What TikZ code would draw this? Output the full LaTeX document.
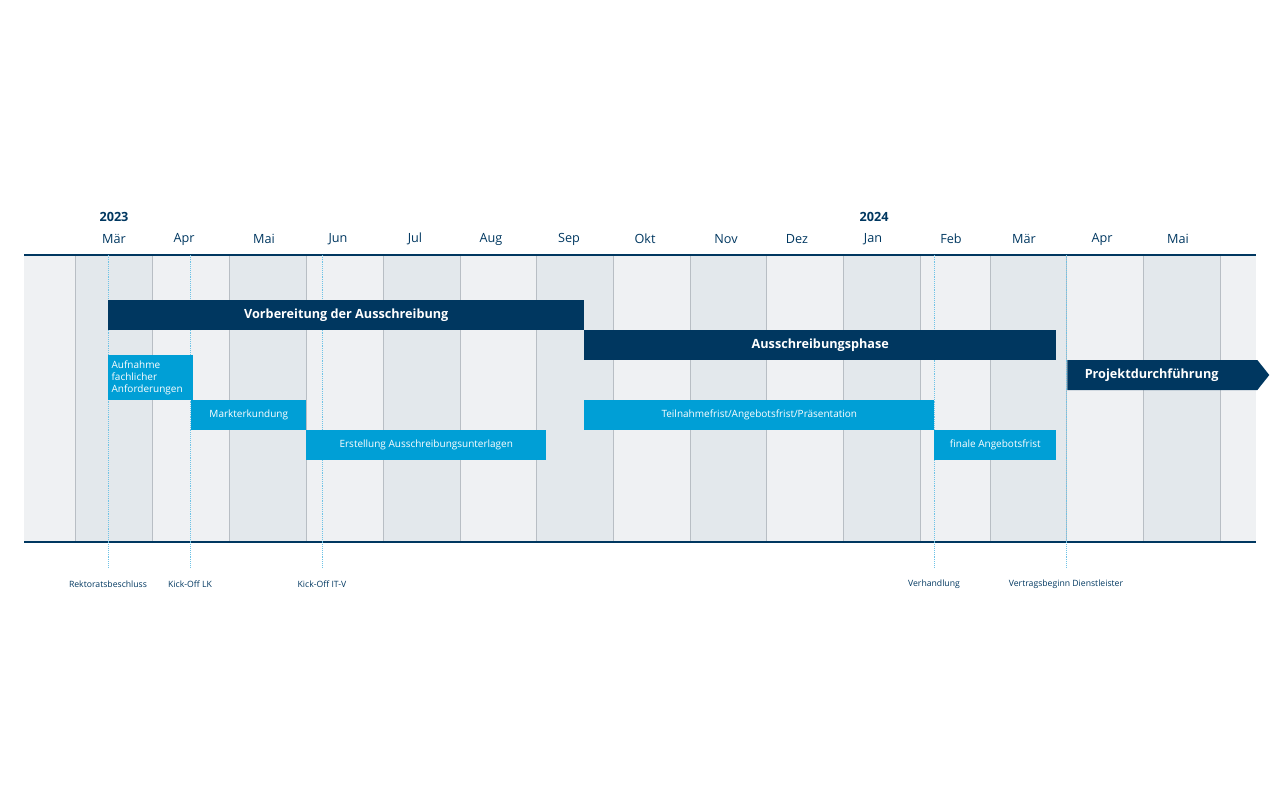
\documentclass[tikz,border=0pt]{standalone}
\usepackage{fontspec}
\setmainfont{Open Sans}
\usetikzlibrary{positioning, shapes.symbols}
\definecolor{navy}{HTML}{003760}
\definecolor{sky}{HTML}{009FD6}
\definecolor{bandlight}{HTML}{EFF1F3}
\definecolor{banddark}{HTML}{E3E8EC}
\definecolor{gridline}{HTML}{B8BEC4}
\definecolor{mstone}{HTML}{6FC3E6}
\tikzset{phase/.style={fill=navy, text=white, font=\bfseries\fontsize{9.5}{11}\selectfont, inner sep=0pt, minimum height=30*0.75pt, anchor=west},
  task/.style={fill=sky, text=white, font=\fontsize{7.5}{9}\selectfont, inner sep=0pt, minimum height=30*0.75pt, anchor=west},
  month/.style={text=navy, font=\fontsize{9.5}{11}\selectfont},
  year/.style={text=navy, font=\bfseries\fontsize{9.5}{11}\selectfont},
  mlabel/.style={text=navy, font=\fontsize{6.5}{8}\selectfont},
  mline/.style={mstone, densely dotted, thin}}
\begin{document}
\begin{tikzpicture}[x=0.75pt, y=-0.75pt]
\useasboundingbox (0,0) rectangle (1280,800);
% background band
\fill[bandlight] (24,255) rectangle (1256,542);
\foreach \a/\b in {75/152, 229/306, 383/460, 536/613, 690/766, 843/920, 990/1066, 1143/1220}
  \fill[banddark] (\a,255) rectangle (\b,542);
\foreach \x in {75,152,229,306,383,460,536,613,690,766,843,920,990,1066,1143,1220}
  \draw[gridline, thin] (\x,255) -- (\x,542);
\draw[navy, line width=1.2pt] (24,255) -- (1256,255);
\draw[navy, line width=1.2pt] (24,542) -- (1256,542);
% months
\foreach \x/\m in {114/Mär, 184/Apr, 264/Mai, 338/Jun, 415/Jul, 491/Aug, 569/Sep, 645/Okt, 726/Nov, 797/Dez, 873/Jan, 951/Feb, 1024/Mär, 1102/Apr, 1178/Mai}
  \node[month] at (\x,239) {\m};
\node[year] (y23) at (114,217) {2023};
\node[year] (y24) at (874,217) {2024};
% milestones
\foreach \x/\n/\t in {108/rb/Rektoratsbeschluss, 190/kl/Kick-Off LK, 322/ki/Kick-Off IT-V, 934/vh/Verhandlung, 1066/vb/Vertragsbeginn Dienstleister} {
  \coordinate (\n top) at (\x,255);
  \coordinate (\n bot) at (\x,568);
  \draw[mline] (\n top) -- (\n bot);
  \node[mlabel] (\n) at (\x,584) {\t};
}
% phases
\node[phase, minimum width=476*0.75pt] (vorb) at (108,315) {Vorbereitung der Ausschreibung};
\node[phase, minimum width=472*0.75pt] (aus) at (584,345) {Ausschreibungsphase};
\node[signal, signal to=east, fill=navy, text=white, font=\bfseries\fontsize{9.5}{11}\selectfont, inner sep=0pt, minimum height=30*0.75pt, minimum width=202*0.75pt, signal pointer angle=103, anchor=west] (proj) at (1067,375) {\hspace*{-16pt}Projektdurchführung};
% tasks
\node[task, minimum width=83*0.75pt, minimum height=45*0.75pt, align=left, text width=78*0.75pt, inner xsep=2.5pt, anchor=north west] (aufn) at (108,355) {Aufnahme\\fachlicher\\Anforderungen};
\node[task, minimum width=115*0.75pt] (markt) at (191,415) {Markterkundung};
\node[task, minimum width=240*0.75pt] (erst) at (306,445) {Erstellung Ausschreibungsunterlagen};
\node[task, minimum width=350*0.75pt] (teil) at (584,415) {Teilnahmefrist/Angebotsfrist/Präsentation};
\node[task, minimum width=122*0.75pt] (fin) at (934,445) {finale Angebotsfrist};
\end{tikzpicture}
\end{document}
